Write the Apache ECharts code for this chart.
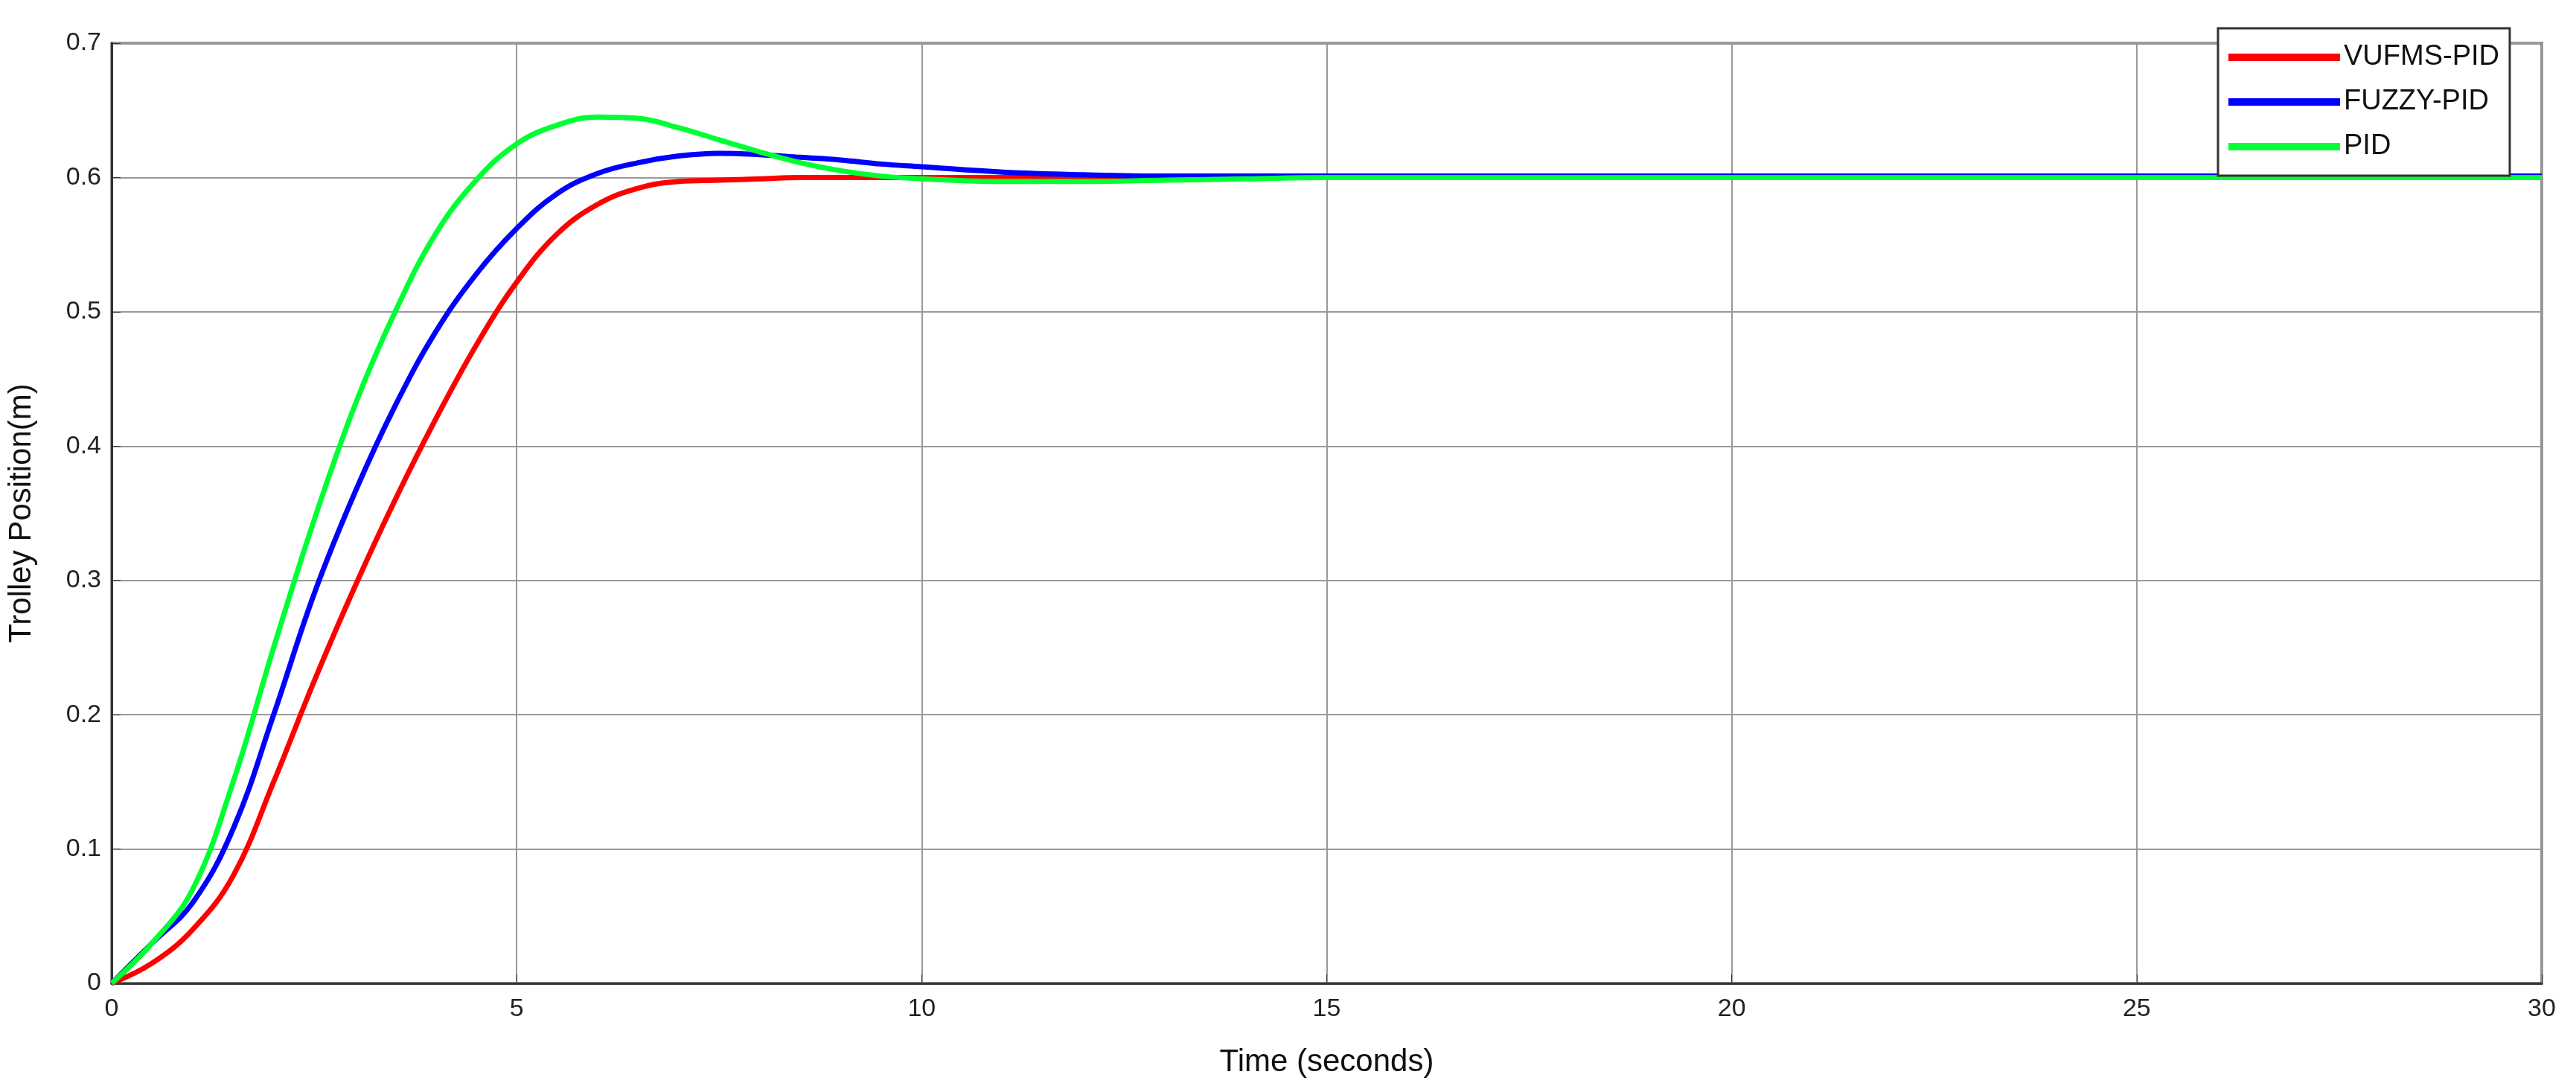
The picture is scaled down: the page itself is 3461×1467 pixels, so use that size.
<!DOCTYPE html>
<html>
<head>
<meta charset="utf-8">
<script src="https://cdn.jsdelivr.net/npm/echarts@6/dist/echarts.min.js"></script>
<style>
html,body{margin:0;padding:0;background:#fff;}
#chart{width:3461px;height:1467px;}
</style>
</head>
<body>
<div id="chart"></div>
<script>
var times = [0,0.5,1,1.5,2,2.5,3,3.5,4,4.5,5,5.5,6,6.5,7,7.5,8,8.5,9,9.5,10,11,12,13,14,15,20,25,30];
var vufms = [0,0.015,0.04,0.08,0.15,0.225,0.295,0.36,0.42,0.475,0.522,0.558,0.58,0.592,0.597,0.598,0.599,0.6,0.6,0.6,0.6,0.6,0.6,0.6,0.6,0.6,0.6,0.6,0.6];
var fuzzy = [0,0.03,0.06,0.115,0.2,0.29,0.365,0.43,0.485,0.528,0.562,0.588,0.603,0.611,0.616,0.618,0.617,0.615,0.613,0.61,0.608,0.604,0.602,0.601,0.601,0.601,0.601,0.601,0.601];
var pid = [0,0.03,0.07,0.15,0.25,0.345,0.43,0.5,0.558,0.598,0.625,0.639,0.645,0.644,0.637,0.628,0.619,0.611,0.605,0.601,0.599,0.597,0.597,0.598,0.599,0.6,0.6,0.6,0.6];
var names = ['VUFMS-PID','FUZZY-PID','PID'];
var colors = ['#ff0000','#0000ff','#00ff33'];

function pairs(vals){
	var out = [];
	for(var i = 0; i < times.length; i++){
		out.push([times[i], vals[i]]);
	}
	return out;
}

var seriesVals = [vufms, fuzzy, pid];
var series = [];
for(var k = 0; k < names.length; k++){
	series.push({
		name : names[k],
		type : 'line',
		smooth : 0.4,
		showSymbol : false,
		lineStyle : { width : 7, color : colors[k] },
		itemStyle : { color : colors[k] },
		data : pairs(seriesVals[k])
	});
}

var option = {
	animation : false,
	backgroundColor : '#fff',
	grid : { left : 150, right : 46, top : 58, bottom : 146, show : true, borderColor : '#333', borderWidth : 3 },
	legend : {
		orient : 'vertical',
		right : 89, top : 38,
		backgroundColor : '#fff',
		borderColor : '#333', borderWidth : 3,
		padding : [20, 14, 20, 14],
		icon : 'rect',
		itemWidth : 150, itemHeight : 10, itemGap : 22,
		textStyle : { fontFamily : 'Liberation Sans', fontSize : 38, color : '#111' },
		data : names
	},
	xAxis : {
		type : 'value', min : 0, max : 30, interval : 5,
		name : 'Time (seconds)', nameLocation : 'middle', nameGap : 85,
		nameTextStyle : { fontFamily : 'Liberation Sans', fontSize : 42, color : '#111' },
		axisLine : { lineStyle : { color : '#333', width : 3 } },
		axisTick : { inside : true, length : 12, lineStyle : { color : '#333' } },
		axisLabel : { fontFamily : 'Liberation Sans', fontSize : 34, color : '#222', margin : 18 },
		splitLine : { lineStyle : { color : '#999', width : 2 } }
	},
	yAxis : {
		type : 'value', min : 0, max : 0.7, interval : 0.1,
		name : 'Trolley Position(m)', nameLocation : 'middle', nameGap : 100,
		nameTextStyle : { fontFamily : 'Liberation Sans', fontSize : 42, color : '#111' },
		axisLine : { lineStyle : { color : '#333', width : 3 } },
		axisTick : { inside : true, length : 12, lineStyle : { color : '#333' } },
		axisLabel : { fontFamily : 'Liberation Sans', fontSize : 34, color : '#222', margin : 14 },
		splitLine : { lineStyle : { color : '#999', width : 2 } }
	},
	series : series
};

var chart = echarts.init(document.getElementById('chart'));
chart.setOption(option);
</script>
</body>
</html>
